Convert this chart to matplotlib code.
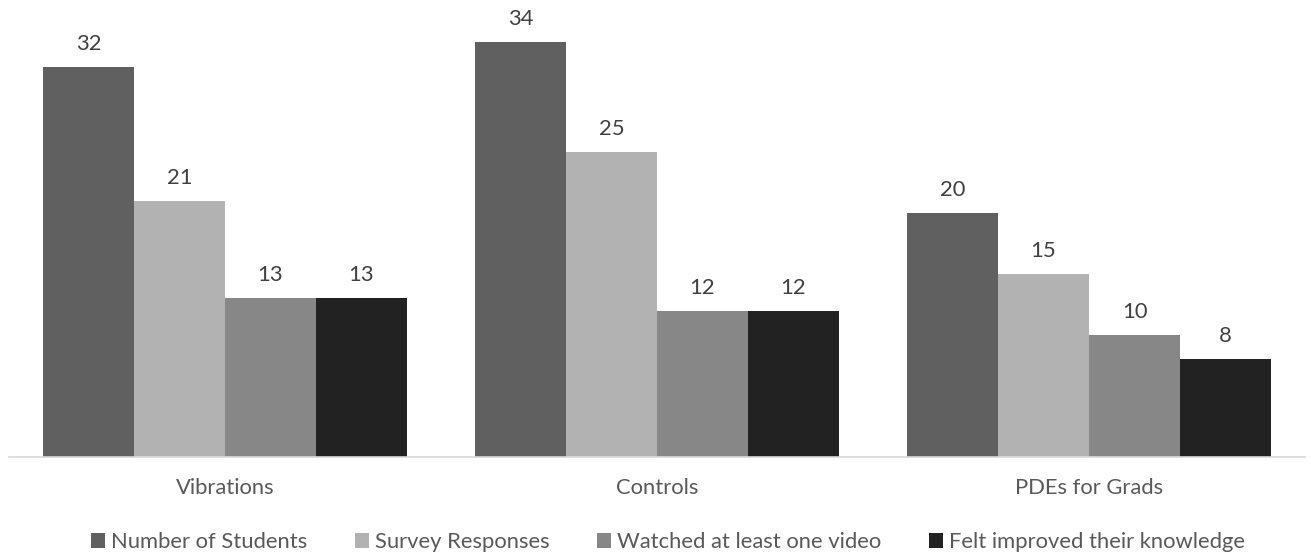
import matplotlib
matplotlib.use("Agg")
import matplotlib.pyplot as plt
import numpy as np

categories = ["Vibrations", "Controls", "PDEs for Grads"]
series_names = ["Number of Students", "Survey Responses",
                "Watched at least one video", "Felt improved their knowledge"]
number_of_students = [32, 34, 20]
survey_responses = [21, 25, 15]
watched_video = [13, 12, 10]
felt_improved = [13, 12, 8]
series_values = [number_of_students, survey_responses, watched_video, felt_improved]
colors = ["#606060", "#b2b2b2", "#878787", "#222222"]

plt.rcParams['font.family'] = ['Lato', 'DejaVu Sans']
text_color = "#595959"
FS = 15.8

fig = plt.figure(figsize=(13.11, 5.54), dpi=100)
ax = fig.add_axes([9/1311, 97/554, 1296/1311, 439.2/554])

x = np.arange(len(categories))
w = 0.2106
for i, (name, vals, c) in enumerate(zip(series_names, series_values, colors)):
    pos = x + (i - 1.5) * w
    bars = ax.bar(pos, vals, width=w, color=c, label=name, linewidth=0)
    for b, v in zip(bars, vals):
        ax.annotate(f"{v}", (b.get_x() + b.get_width()/2, v),
                    xytext=(0, 12.3), textcoords="offset points",
                    ha="center", va="baseline", fontsize=FS, color="#404040")

ax.set_xlim(-0.5, 2.5)
ax.set_ylim(0, 36)
ax.set_xticks(x)
ax.set_xticklabels(categories, fontsize=FS, color=text_color)
ax.tick_params(axis='x', length=0, pad=15)
ax.set_yticks([])
for s in ["top", "right", "left"]:
    ax.spines[s].set_visible(False)
ax.spines["bottom"].set_color("#d9d9d9")
ax.spines["bottom"].set_linewidth(1.2)

leg = fig.legend(loc="center", bbox_to_anchor=(668/1311, 1 - 542/554), ncol=4,
                 frameon=False, fontsize=FS, handlelength=0.64, handleheight=0.64,
                 handletextpad=0.26, columnspacing=2.19, borderpad=0, borderaxespad=0)
for t in leg.get_texts():
    t.set_color(text_color)

fig.savefig("out.png", dpi=100)
